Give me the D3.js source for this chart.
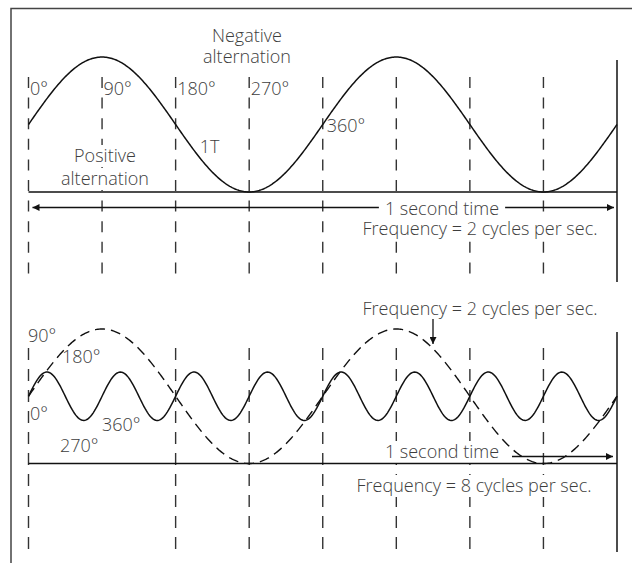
<!DOCTYPE html>
<html>
<head>
<meta charset="utf-8">
<script src="https://cdn.jsdelivr.net/npm/d3@7"></script>
<style>
  body { margin: 0; background: #fff; }
  svg text { font-family: "Open Sans", "Noto Sans", sans-serif; font-size: 18px; font-weight: 300; fill: #3d3d3d; }
</style>
</head>
<body>
<div id="chart"></div>
<script>
// one second of time, split in eighths (each 90° of the 2 cycles/sec wave)
const gridTimes = [0, 0.125, 0.25, 0.375, 0.5, 0.625, 0.75, 0.875];
const bottomGridTimes = [0, 0.25, 0.375, 0.5, 0.625, 0.75, 0.875];
const slowFrequency = 2;   // cycles per sec
const fastFrequency = 8;   // cycles per sec
const fastAmplitude = 0.36;

const topDegreeLabels = ["0°", "90°", "180°", "270°"];
const bottomDegreeLabels = ["90°", "180°", "0°", "360°", "270°"];

const width = 632, height = 563;

const svg = d3.select("#chart").append("svg")
  .attr("width", width)
  .attr("height", height);

const x = d3.scaleLinear().domain([0, 1]).range([28.5, 617]);
const yTop = d3.scaleLinear().domain([-1, 1]).range([192, 57]);
const yBot = d3.scaleLinear().domain([-1, 1]).range([463.5, 329]);

const samples = d3.range(0, 1.0001, 0.002);

const wave = (freq, amp, y) => d3.line()
  .x(t => x(t))
  .y(t => y(amp * Math.sin(2 * Math.PI * freq * t)));

// arrow marker
const defs = svg.append("defs");
defs.append("marker")
  .attr("id", "arrow")
  .attr("viewBox", "0 0 10 10")
  .attr("refX", 10).attr("refY", 5)
  .attr("markerWidth", 10).attr("markerHeight", 7)
  .attr("markerUnits", "userSpaceOnUse")
  .attr("orient", "auto-start-reverse")
  .append("path")
  .attr("d", "M0,0L10,5L0,10z")
  .attr("fill", "#111");

// frame
svg.append("path")
  .attr("d", "M11,563V8.5H632")
  .attr("fill", "none")
  .attr("stroke", "#444")
  .attr("stroke-width", 1.5);

// dashed dividers
svg.append("g").selectAll("line")
  .data(gridTimes)
  .join("line")
  .attr("x1", d => x(d)).attr("x2", d => x(d))
  .attr("y1", 77).attr("y2", 277)
  .attr("stroke", "#333")
  .attr("stroke-width", 1.4)
  .attr("stroke-dasharray", "11,9.6");

svg.append("g").selectAll("line")
  .data(bottomGridTimes)
  .join("line")
  .attr("x1", d => x(d)).attr("x2", d => x(d))
  .attr("y1", 348).attr("y2", 549)
  .attr("stroke", "#333")
  .attr("stroke-width", 1.4)
  .attr("stroke-dasharray", "12,9");

// time arrows
svg.append("line")
  .attr("x1", x(0) + 4).attr("x2", 614)
  .attr("y1", 207.5).attr("y2", 207.5)
  .attr("stroke", "#111").attr("stroke-width", 1.3)
  .attr("marker-start", "url(#arrow)")
  .attr("marker-end", "url(#arrow)");

svg.append("line")
  .attr("x1", 512).attr("x2", 613)
  .attr("y1", 456.5).attr("y2", 456.5)
  .attr("stroke", "#111").attr("stroke-width", 1.3)
  .attr("marker-end", "url(#arrow)");

// frequency pointer arrow
svg.append("line")
  .attr("x1", 433).attr("x2", 433)
  .attr("y1", 319).attr("y2", 344)
  .attr("stroke", "#111").attr("stroke-width", 1.3)
  .attr("marker-end", "url(#arrow)");

// labels (with white backing where they sit over lines)
const label = (txt, tx, ty, anchor, mask, pad) => {
  const g = svg.append("g");
  const t = g.append("text")
    .attr("x", tx).attr("y", ty)
    .attr("text-anchor", anchor || "start")
    .text(txt);
  if (mask) {
    const b = t.node().getBBox();
    const p = pad == null ? 4 : pad;
    g.insert("rect", "text")
      .attr("x", b.x - p).attr("y", b.y + 2)
      .attr("width", b.width + 2 * p).attr("height", b.height - 2)
      .attr("fill", "#fff");
  }
};

label("Negative", 247, 42, "middle");
label("alternation", 247, 63, "middle");
topDegreeLabels.forEach((d, i) => label(d, x(gridTimes[i]) + 1.5, 95));
label("360°", x(0.5) + 4, 132);
label("1T", x(0.25) + 24, 153);
label("Positive", 105, 162, "middle", true, 2);
label("alternation", 105, 185, "middle", true, 2);
label("1 second time", 442, 214.5, "middle", true, 6);
label("Frequency = 2 cycles per sec.", 480, 235, "middle", true, 3);

const botPos = [[28, 342], [62, 363], [30, 420], [102, 431], [60, 452]];
bottomDegreeLabels.forEach((d, i) => label(d, botPos[i][0], botPos[i][1]));
label("Frequency = 2 cycles per sec.", 480, 315, "middle");
label("1 second time", 442, 458, "middle", true, 2);
label("Frequency = 8 cycles per sec.", 474, 492, "middle", true, 4);

// baselines
[yTop(-1), yBot(-1)].forEach(yy => {
  svg.append("line")
    .attr("x1", x(0)).attr("x2", x(1))
    .attr("y1", yy).attr("y2", yy)
    .attr("stroke", "#111").attr("stroke-width", 1.4);
});

// right edges
svg.append("line").attr("x1", x(1)).attr("x2", x(1)).attr("y1", 60).attr("y2", 282)
  .attr("stroke", "#111").attr("stroke-width", 1.5);
svg.append("line").attr("x1", x(1)).attr("x2", x(1)).attr("y1", 332).attr("y2", 552)
  .attr("stroke", "#111").attr("stroke-width", 1.5);

// waves
svg.append("path")
  .datum(samples)
  .attr("d", wave(slowFrequency, 1, yTop))
  .attr("fill", "none").attr("stroke", "#111").attr("stroke-width", 1.5);

svg.append("path")
  .datum(samples)
  .attr("d", wave(slowFrequency, 1, yBot))
  .attr("fill", "none").attr("stroke", "#111").attr("stroke-width", 1.4)
  .attr("stroke-dasharray", "10,6");

svg.append("path")
  .datum(samples)
  .attr("d", wave(fastFrequency, fastAmplitude, yBot))
  .attr("fill", "none").attr("stroke", "#111").attr("stroke-width", 1.5);
</script>
</body>
</html>
